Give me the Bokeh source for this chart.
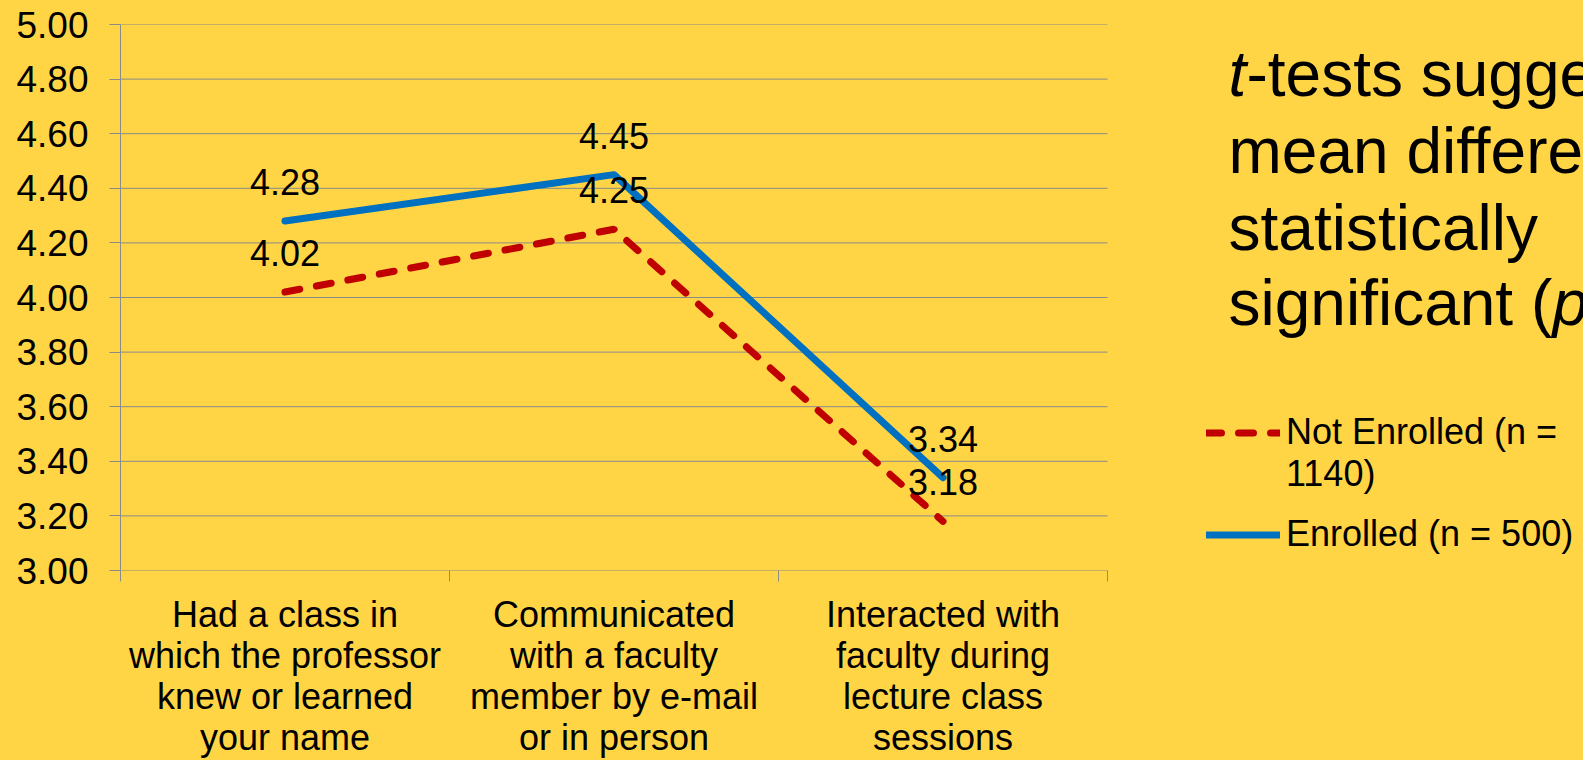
from bokeh.plotting import figure
from bokeh.models import (Range1d, FixedTicker, NumeralTickFormatter, Label, LabelSet,
                          ColumnDataSource, Legend, LegendItem)
from bokeh.core.properties import value
from bokeh.embed import file_html
from bokeh.resources import INLINE

# ---------------- data ----------------
categories = [
    "Had a class in\nwhich the professor\nknew or learned\nyour name",
    "Communicated\nwith a faculty\nmember by e-mail\nor in person",
    "Interacted with\nfaculty during\nlecture class\nsessions",
]
not_enrolled = [4.02, 4.25, 3.18]
enrolled = [4.28, 4.45, 3.34]
series_labels = [["Not Enrolled (n =", "1140)"], ["Enrolled (n = 500)"]]
y_ticks = [3.00, 3.20, 3.40, 3.60, 3.80, 4.00, 4.20, 4.40, 4.60, 4.80, 5.00]
note_lines = ["t-tests suggest", "mean differences", "statistically", "significant (p < .05)"]

# ---------------- style ----------------
BG = "#FFD545"
GRID = "#8A8A8A"
RED = "#C00000"
BLUE = "#0070C0"
FONT = "Liberation Sans"

W, H = 1583, 760
FL, FT, FB = 120, 24, 571      # frame left / top / bottom (px)
PLOT_R = 1107                  # px where the category axis ends
N = len(categories)
x_end = N * (W - FL) / (PLOT_R - FL)

p = figure(width=W, height=H, x_range=Range1d(0, x_end), y_range=Range1d(3, 5),
           output_backend="svg", toolbar_location=None,
           min_border_left=FL, min_border_right=0, min_border_top=FT,
           min_border_bottom=H - FB,
           background_fill_color=BG, border_fill_color=BG, outline_line_color=None)
p.styles = {"background-color": BG}

# gridlines (only across the category area)
p.xgrid.grid_line_color = None
p.ygrid.grid_line_color = None
p.segment(x0=[0] * len(y_ticks), x1=[N] * len(y_ticks), y0=y_ticks, y1=y_ticks,
          line_color=GRID, line_width=1)

# y axis
p.yaxis.ticker = FixedTicker(ticks=y_ticks)
p.yaxis.formatter = NumeralTickFormatter(format="0.00")
p.yaxis.axis_line_color = GRID
p.yaxis.major_tick_line_color = GRID
p.yaxis.major_tick_in = 0
p.yaxis.major_tick_out = 11
p.yaxis.minor_tick_line_color = None
p.yaxis.major_label_standoff = 21
p.yaxis.major_label_text_font = FONT
p.yaxis.major_label_text_font_size = "37px"
p.yaxis.major_label_text_color = "black"

# x axis
xs = [i + 0.5 for i in range(N)]
p.xaxis.ticker = FixedTicker(ticks=xs, minor_ticks=list(range(N + 1)))
p.xaxis.major_label_overrides = {x: c for x, c in zip(xs, categories)}
p.xaxis.axis_line_color = None
p.xaxis.major_tick_line_color = None
p.xaxis.minor_tick_line_color = GRID
p.xaxis.minor_tick_in = 0
p.xaxis.minor_tick_out = 11
p.xaxis.major_label_standoff = 12
p.xaxis.major_label_text_font = FONT
p.xaxis.major_label_text_font_size = "36px"
p.xaxis.major_label_text_line_height = 1.0
p.xaxis.major_label_text_color = "black"
p.xaxis.major_label_text_align = "center"

# lines
r_red = p.line(xs, not_enrolled, line_color=RED, line_width=7, line_dash="15 17", line_cap="round")
r_blue = p.line(xs, enrolled, line_color=BLUE, line_width=7, line_join="round", line_cap="round")
r_blank = p.line(x=[], y=[], line_alpha=0)   # carries the wrapped 2nd line of the first legend label

# data labels
for vals in (not_enrolled, enrolled):
    src = ColumnDataSource(dict(x=xs, y=vals, t=[f"{v:.2f}" for v in vals]))
    p.add_layout(LabelSet(x="x", y="y", text="t", source=src, y_offset=39,
                          text_align="center", text_baseline="middle",
                          text_font=value(FONT), text_font_size=value("36px"),
                          text_color="black"))

# legend
leg_style = dict(orientation="vertical", padding=0, margin=0, spacing=0,
                 glyph_width=74, glyph_height=41, label_standoff=6,
                 border_line_color=None, background_fill_alpha=0,
                 label_text_font=FONT, label_text_font_size="36px",
                 label_text_color="black", label_text_line_height=1.0, label_height=41)
legend_a = Legend(items=[LegendItem(label=series_labels[0][0], renderers=[r_red]),
                         LegendItem(label=series_labels[0][1], renderers=[r_blank])],
                  location=(1206 - FL, FB - 496), **leg_style)
legend_b = Legend(items=[LegendItem(label=series_labels[1][0], renderers=[r_blue])],
                  location=(1206 - FL, FB - 556), **leg_style)
p.add_layout(legend_a, "center")
p.add_layout(legend_b, "center")

# note text (px -> data)
px_per_x = (PLOT_R - FL) / N
px_per_y = (FB - FT) / 2.0
def dx(px):
    return (px - FL) / px_per_x
def dy(py):
    return 3 + (FB - py) / px_per_y

note_x = 1228
baselines = [74, 151, 228, 303]
common = dict(text_font=FONT, text_font_size="64px", text_color="black", text_baseline="alphabetic")
p.add_layout(Label(x=dx(note_x), y=dy(baselines[0]), text=note_lines[0][0], text_font_style="italic", **common))
p.add_layout(Label(x=dx(note_x + 18), y=dy(baselines[0]), text=note_lines[0][1:], **common))
p.add_layout(Label(x=dx(note_x), y=dy(baselines[1]), text=note_lines[1], **common))
p.add_layout(Label(x=dx(note_x), y=dy(baselines[2]), text=note_lines[2], **common))
head, tail = note_lines[3].split("(p")
p.add_layout(Label(x=dx(note_x), y=dy(baselines[3]), text=head + "(", **common))
p.add_layout(Label(x=dx(note_x + 324), y=dy(baselines[3]), text="p", text_font_style="italic", **common))
p.add_layout(Label(x=dx(note_x + 324 + 36), y=dy(baselines[3]), text=tail, **common))

open("out.html", "w").write(file_html(p, INLINE))
